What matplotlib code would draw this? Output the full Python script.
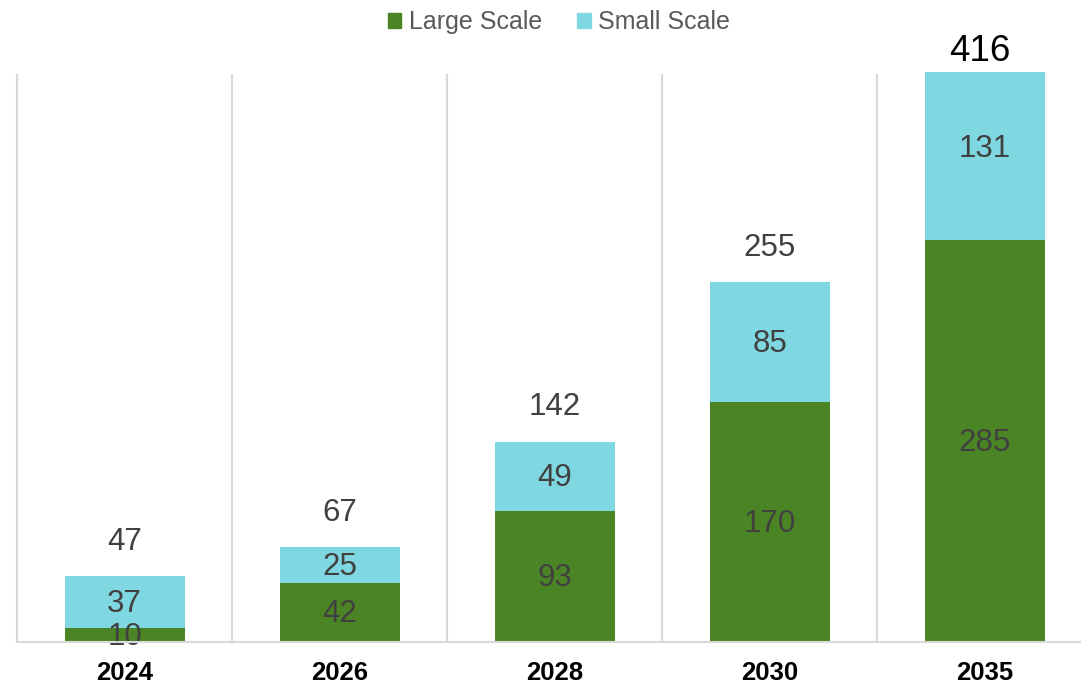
import matplotlib.pyplot as plt
from matplotlib.patches import Patch
import numpy as np

plt.rcParams['font.family'] = ['Liberation Sans', 'DejaVu Sans']

years = ["2024", "2026", "2028", "2030", "2035"]
large_scale = [10, 42, 93, 170, 285]
small_scale = [37, 25, 49, 85, 131]

green = "#4B8424"
cyan = "#7FD7E1"
grey_txt = "#404040"
grid_col = "#D9D9D9"

large = np.array(large_scale)
small = np.array(small_scale)
totals = large + small
x = np.arange(len(years))

fig = plt.figure(figsize=(10.81, 6.85), dpi=100)
ax = fig.add_axes([17 / 1081, 43 / 685, 1064 / 1081, 570 / 685])
ymax = 403.7
ax.set_xlim(-0.5, 4.4465)
ax.set_ylim(0, ymax)

w = 0.558
ax.bar(x, large, w, color=green, zorder=3)
ax.bar(x, small, w, bottom=large, color=cyan, zorder=3)

# separators between the year groups
for b in np.arange(-0.5, len(years) - 0.5):
    ax.plot([b, b], [0, 401.5], color=grid_col, lw=1.5, zorder=1, clip_on=False)

fs = 22.5
for i in range(len(years)):
    ax.annotate(str(large[i]), (x[i], large[i] / 2), xytext=(0, -1.5), textcoords="offset points",
                ha="center", va="center", fontsize=fs, color=grey_txt, zorder=4)
    ax.annotate(str(small[i]), (x[i], large[i] + small[i] / 2), xytext=(0, -1.5),
                textcoords="offset points", ha="center", va="center", fontsize=fs,
                color=grey_txt, zorder=4)
    if totals[i] > ymax:
        ax.annotate(str(totals[i]), (x[i], ymax), xytext=(-4, 15), textcoords="offset points",
                    ha="center", va="center", fontsize=26.5, color="black", annotation_clip=False)
    else:
        ax.annotate(str(totals[i]), (x[i], totals[i]), xytext=(0, 24.5), textcoords="offset points",
                    ha="center", va="center", fontsize=fs, color=grey_txt)

for s in ["top", "right", "left"]:
    ax.spines[s].set_visible(False)
ax.spines["bottom"].set_color(grid_col)
ax.spines["bottom"].set_linewidth(1.5)
ax.spines["bottom"].set_zorder(5)
ax.set_yticks([])
ax.set_xticks(x)
ax.set_xticklabels(years, fontsize=18.5, fontweight="bold", color="black")
ax.tick_params(axis="x", length=0, pad=14)

handles = [Patch(color=green, label="Large Scale"), Patch(color=cyan, label="Small Scale")]
fig.legend(handles=handles, loc="center", bbox_to_anchor=(559 / 1081, 1 - 22 / 685), ncol=2,
           frameon=False, fontsize=18, handlelength=0.55, handleheight=0.55, handletextpad=0.3,
           columnspacing=1.4, labelcolor="#595959")

fig.savefig("out.png", dpi=100)
